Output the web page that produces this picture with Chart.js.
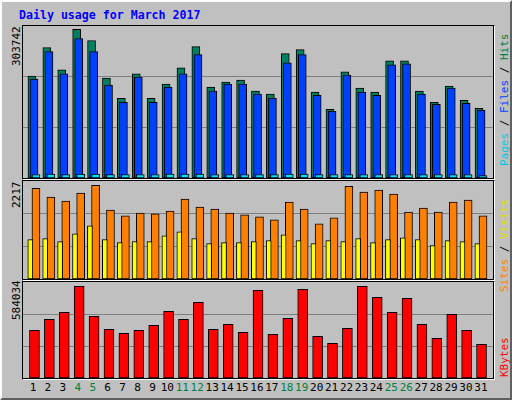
<!DOCTYPE html>
<html><head><meta charset="utf-8">
<script src="https://cdn.jsdelivr.net/npm/chart.js@4"></script>
<style>
body{margin:0;background:#fff}
#box{position:absolute;left:0;top:0;width:508px;height:396px;background:#c0c0c0;border-left:2px solid #fff;border-top:2px solid #fff;border-right:2px solid #606060;border-bottom:2px solid #606060;font-family:"DejaVu Sans Mono",monospace;overflow:hidden}
.pn{position:absolute;left:20px;width:471px;border-left:1px solid #000;border-top:1px solid #000;border-right:1px solid #fff;border-bottom:1px solid #fff;box-shadow:inset -1px -1px 0 #000}
canvas{position:absolute;left:0;top:0}
.t{position:absolute;white-space:nowrap;font-size:11px}
.rot{position:absolute;transform-origin:0 0;transform:rotate(-90deg);white-space:nowrap;font-size:11px}
.xl{position:absolute;top:379px;width:15px;text-align:center;font-size:11px;color:#000}
</style></head><body>
<div id="box">
<div class="t" style="left:17px;top:6px;color:#0000ff;font-weight:bold;font-size:11.6px">Daily usage for March 2017</div>
<div class="pn" id="p1" style="top:23px;height:153px"><canvas id="c1"></canvas></div>
<div class="pn" id="p2" style="top:178px;height:99px"><canvas id="c2"></canvas></div>
<div class="pn" id="p3" style="top:279px;height:97px"><canvas id="c3"></canvas></div>
<div class="rot" style="left:8px;top:64px">303742</div>
<div class="rot" style="left:8px;top:206px">2217</div>
<div class="rot" style="left:8px;top:318px">584034</div>
<div class="rot" style="left:496px;top:164px"><span style="color:#00c8e0">Pages</span> / <span style="color:#0040ff">Files</span> / <span style="color:#008040">Hits</span></div>
<div class="rot" style="left:496px;top:290px"><span style="color:#ff8000">Sites</span> / <span style="color:#e0e000">Visits</span></div>
<div class="rot" style="left:496px;top:375px;color:#ff0000">KBytes</div>
<div id="xl"></div>
</div>
<script>
const days=[1,2,3,4,5,6,7,8,9,10,11,12,13,14,15,16,17,18,19,20,21,22,23,24,25,26,27,28,29,30,31];
const weekend=[4,5,11,12,18,19,25,26];
const hits=[203900,260600,216100,297100,274800,199900,159400,208000,159400,187700,220100,262600,181600,191800,195800,173500,167500,248500,256600,171500,137100,212000,179600,171500,234300,234300,173500,151300,183700,155300,139100];
const files=[197800,252500,208000,278800,252500,185700,151300,201900,151300,181600,208000,246400,173500,187700,187700,167500,159400,230200,246400,165400,133000,205900,171500,165400,226200,228200,167500,147200,179600,149200,135100];
const pages=[7000,8000,7000,8000,8000,7000,7000,7000,7000,8000,8000,8000,7000,7000,7000,7000,7000,8000,8000,7000,7000,7000,7000,7000,7000,7000,7000,7000,7000,7000,5000];
const visits=[2054,1852,1763,1942,2121,1561,1427,1494,1472,1539,1808,1628,1584,1494,1449,1404,1337,1740,1584,1248,1382,2099,1964,2009,1920,1516,1606,1516,1740,1785,1427];
const sites=[889,912,845,1024,1203,889,822,845,845,979,1068,912,800,822,822,845,867,1001,867,800,867,845,912,822,889,934,889,755,867,845,800];
const kbytes=[290200,357100,399700,557900,375400,296300,272000,290200,320600,405800,357100,460600,296300,326700,278000,533600,265900,363200,539700,253700,211100,302400,557900,491000,399700,484900,326700,241500,387600,290200,205000];
const maxes=[303742,2217,584034];

const xl=document.getElementById('xl');
days.forEach(d=>{const e=document.createElement('div');e.className='xl';e.textContent=d;
 e.style.left=(33+14.93*(d-1)-7.5-2)+'px';if(weekend.includes(d))e.style.color='#008040';xl.appendChild(e);});

function ds(vals,shift,w,color){return{data:vals.map((v,i)=>({x:days[i]+shift,y:v})),backgroundColor:color,borderColor:'#000',borderWidth:1,barThickness:w,grouped:false,borderSkipped:false};}
function make(id,w,h,max,datasets){
 const c=document.getElementById(id);c.width=w;c.height=h;
 new Chart(c,{type:'bar',data:{datasets},options:{responsive:false,animation:false,devicePixelRatio:1,
  layout:{padding:0},plugins:{legend:{display:false},tooltip:{enabled:false}},
  scales:{x:{type:'linear',min:0.13,max:31.67,offset:false,display:false},
   y:{min:0,max:max,afterBuildTicks:s=>{s.ticks=[{value:max/3},{value:2*max/3}]},ticks:{display:false},border:{display:false},grid:{color:'#808080',drawTicks:false,lineWidth:1}}}}});
}
make('c1',470,152,maxes[0],[ds(pages,0,8,'#00e0ff'),ds(files,-0.13,8,'#0040ff'),ds(hits,-0.27,8,'#008060')]);
make('c2',470,98,maxes[1],[ds(sites,-0.38,5,'#ffff00'),ds(visits,0,8,'#ff8000')]);
make('c3',470,96,maxes[2],[ds(kbytes,-0.1,10,'#ff0000')]);
</script>
</body></html>
